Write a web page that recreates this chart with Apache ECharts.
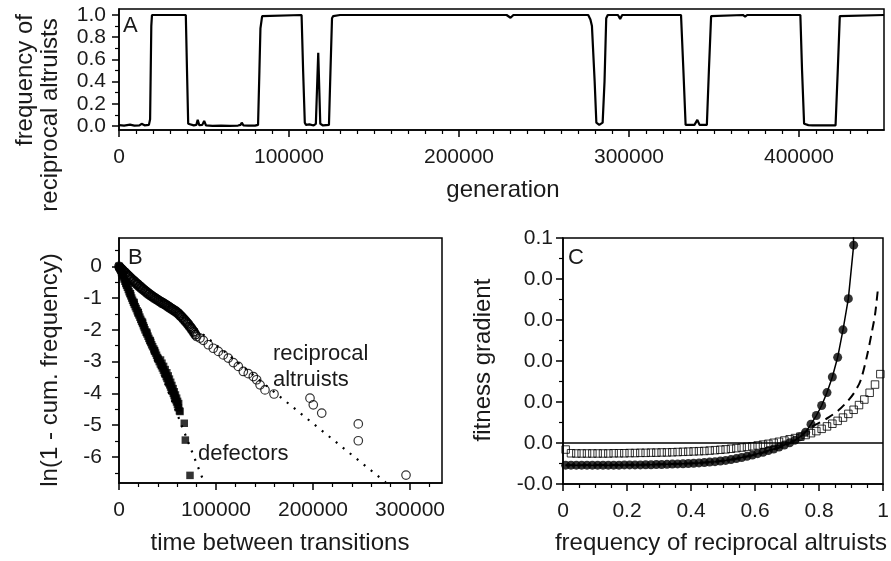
<!DOCTYPE html>
<html>
<head>
<meta charset="utf-8">
<script src="https://cdn.jsdelivr.net/npm/echarts@6/dist/echarts.min.js"></script>
<style>
html, body { margin: 0; padding: 0; background: #fff; }
#main { width: 891px; height: 561px; }
</style>
</head>
<body>
<div id="main"></div>
<script>
// ---- panel A: frequency of reciprocal altruists over generations
var genA = [0, 3000, 6500, 9000, 12000, 13300, 15000, 17600, 18300, 19000, 19400,
    39300, 40000, 40700, 41200, 44000, 45500, 46300, 47200, 49000, 50100, 51200,
    55000, 60000, 65000, 70000, 71500, 72200, 73200, 76000, 80000, 81800, 82600,
    83200, 84200, 85000, 107400, 108300, 109300, 110000, 112000, 114500, 115800,
    117200, 118400, 120000, 123500, 124400, 125300, 126000, 130000, 228000, 230300,
    232000, 276000, 277300, 278200, 279800, 280800, 282500, 284500, 285600, 286600,
    287500, 293500, 294800, 296000, 330600, 332000, 333300, 338500, 340200, 341500,
    345800, 347000, 348300, 349000, 367000, 368300, 369500, 378000, 379100, 380300,
    400800, 401800, 403000, 405500, 406500, 408000, 421500, 422800, 424000, 425000, 450000];
var freqA = [0.008, 0.004, 0.012, 0.004, 0.006, 0.02, 0.006, 0.01, 0.06, 0.9, 1.0,
    1.0, 0.5, 0.02, 0.005, 0.006, 0.01, 0.055, 0.008, 0.01, 0.045, 0.005,
    0.002, 0.003, 0.002, 0.004, 0.01, 0.03, 0.006, 0.003, 0.003, 0.01, 0.5,
    0.88, 0.99, 1.0, 1.0, 0.5, 0.03, 0.01, 0.015, 0.005, 0.02,
    0.66, 0.02, 0.005, 0.01, 0.5, 0.97, 0.99, 1.0, 1.0, 0.975,
    1.0, 1.0, 0.96, 0.9, 0.4, 0.03, 0.01, 0.03, 0.4, 0.97,
    1.0, 1.0, 0.965, 1.0, 1.0, 0.5, 0.01, 0.01, 0.055, 0.01,
    0.01, 0.5, 0.99, 1.0, 1.0, 0.985, 1.0, 1.0, 0.985, 1.0,
    1.0, 0.5, 0.02, 0.008, 0.018, 0.005, 0.005, 0.5, 0.99, 1.0, 1.0];
var ticksAx = [0, 100000, 200000, 300000, 400000];
var ticksAy = [0, 0.2, 0.4, 0.6, 0.8, 1.0];

// ---- panel B: time between transitions
var defT = [0, 300, 900, 1800, 2600, 3500, 4400, 5200, 6100, 7000, 7800, 8700, 9600,
    10400, 11300, 12200, 13100, 14000, 14900, 15800, 16800, 17700, 18700, 19600,
    20500, 21500, 22400, 23300, 24300, 25200, 26000, 26800, 27900, 28900, 29900,
    30800, 31800, 32800, 33700, 34700, 35800, 36800, 37700, 38700, 39600, 40600,
    41500, 42600, 43700, 44700, 45800, 46800, 47900, 48700, 49500, 50600, 51400,
    52300, 53200, 54100, 55000, 56000, 56800, 57600, 58400, 59300, 60200, 61200,
    62300, 67300, 68400, 73200,
    1500, 4000, 7600, 11800, 15600, 19900, 24200, 28600, 32300, 36500, 40000,
    42800, 44300, 46000, 47600, 49300, 50800, 52000, 53300, 54500, 55800, 57000,
    58200, 59400, 60400, 61500, 62900];
var defLn = [0, -0.03, -0.07, -0.13, -0.2, -0.27, -0.33, -0.4, -0.47, -0.53, -0.6, -0.66, -0.73,
    -0.8, -0.86, -0.93, -1.0, -1.07, -1.13, -1.2, -1.27, -1.33, -1.4, -1.47,
    -1.53, -1.6, -1.67, -1.73, -1.8, -1.87, -1.93, -2.0, -2.07, -2.13, -2.2,
    -2.27, -2.33, -2.4, -2.47, -2.53, -2.6, -2.67, -2.73, -2.8, -2.87, -2.93,
    -3.0, -3.07, -3.13, -3.2, -3.27, -3.33, -3.4, -3.47, -3.53, -3.6, -3.67,
    -3.73, -3.8, -3.87, -3.93, -4.0, -4.07, -4.13, -4.2, -4.27, -4.35, -4.45,
    -4.55, -4.94, -5.47, -6.58,
    -0.09, -0.27, -0.55, -0.86, -1.14, -1.45, -1.76, -2.08, -2.35, -2.65, -2.9,
    -2.95, -3.05, -3.15, -3.25, -3.35, -3.45, -3.55, -3.65, -3.75, -3.85, -3.95,
    -4.05, -4.15, -4.25, -4.32, -4.57];
var altT = [0, 1000, 2000, 3000, 4000, 5000, 6000, 7000, 8000, 9000, 10000, 11000, 12000,
    13000, 14000, 15000, 16000, 17000, 18000, 19000, 20000, 21000, 22000, 23000,
    24000, 25000, 26000, 27000, 28000, 29000, 30000, 31000, 32000, 33000, 34000,
    35000, 36000, 37000, 38000, 39000, 40000, 41000, 42000, 43000, 44000, 45000,
    46000, 47000, 48000, 49000, 50000, 51000, 52000, 53000, 54000, 55000, 56000,
    57000, 58000, 59000, 60000, 61000, 62000, 63000, 64000, 65000, 66000, 67000,
    68000, 69000, 70000, 71000, 72000, 73000, 74000, 75000, 76000, 77000, 78000,
    79000, 80100, 83500, 86900, 92100, 97200, 102400, 107500, 112700, 117900,
    123000, 128200, 133300, 138500, 141900, 145400, 150500, 159800, 196900, 200300,
    209000, 246700, 246700, 295900,
    500, 2500, 4500, 6500, 8500, 10500, 12500, 14500, 16500, 18500, 20500, 22500,
    24500, 26500, 28500, 30500, 32500, 34500, 36500, 38500, 40500, 42500, 44500,
    46500, 48500, 50500, 52500, 54500, 56500, 58500, 60500, 62500, 64500, 66500,
    68500, 70500, 72500, 74500, 76500, 78500];
var altLn = [0, -0.03, -0.07, -0.09, -0.12, -0.16, -0.18, -0.21, -0.25, -0.27, -0.3, -0.33, -0.37,
    -0.39, -0.42, -0.45, -0.47, -0.5, -0.54, -0.55, -0.58, -0.62, -0.63, -0.66,
    -0.7, -0.71, -0.74, -0.77, -0.79, -0.81, -0.85, -0.86, -0.88, -0.92, -0.93,
    -0.95, -0.98, -0.99, -1.01, -1.04, -1.05, -1.07, -1.1, -1.11, -1.13, -1.15,
    -1.16, -1.18, -1.21, -1.22, -1.24, -1.27, -1.28, -1.3, -1.33, -1.34, -1.36,
    -1.39, -1.4, -1.42, -1.45, -1.47, -1.5, -1.54, -1.56, -1.59, -1.63, -1.66,
    -1.7, -1.73, -1.77, -1.8, -1.84, -1.89, -1.92, -1.96, -2.01, -2.05, -2.1,
    -2.15, -2.21, -2.26, -2.33, -2.47, -2.58, -2.68, -2.79, -2.89, -3.03,
    -3.15, -3.31, -3.38, -3.47, -3.57, -3.73, -3.89, -4.02, -4.15, -4.36,
    -4.62, -4.96, -5.49, -6.57,
    -0.05, -0.11, -0.17, -0.23, -0.29, -0.35, -0.42, -0.47, -0.53, -0.58, -0.64, -0.69,
    -0.74, -0.79, -0.84, -0.89, -0.93, -0.97, -1.02, -1.05, -1.09, -1.13, -1.17,
    -1.2, -1.24, -1.28, -1.32, -1.36, -1.4, -1.44, -1.49, -1.55, -1.61, -1.68,
    -1.75, -1.82, -1.9, -1.98, -2.07, -2.16];
var defFitT = [0, 87700];
var defFitLn = [0, -6.8];
var altFitT = [0, 275000];
var altFitLn = [0, -6.8];
var ticksBx = [0, 100000, 200000, 300000];
var ticksBy = [0, -1, -2, -3, -4, -5, -6];

// ---- panel C: fitness gradient
var fracC = [0.0083, 0.025, 0.0417, 0.0583, 0.075, 0.0917, 0.1083, 0.125, 0.1417, 0.1583,
    0.175, 0.1917, 0.2083, 0.225, 0.2417, 0.2583, 0.275, 0.2917, 0.3083, 0.325,
    0.3417, 0.3583, 0.375, 0.3917, 0.4083, 0.425, 0.4417, 0.4583, 0.475, 0.4917,
    0.5083, 0.525, 0.5417, 0.5583, 0.575, 0.5917, 0.6083, 0.625, 0.6417, 0.6583,
    0.675, 0.6917, 0.7083, 0.725, 0.7417, 0.7583, 0.775, 0.7917, 0.8083, 0.825,
    0.8417, 0.8583, 0.875, 0.8917, 0.9083, 0.925, 0.9417, 0.9583, 0.975, 0.9917];
var circC = [-0.0108, -0.0108, -0.0108, -0.0108, -0.0108, -0.0108, -0.0108, -0.0108, -0.0108, -0.0108,
    -0.0108, -0.0107, -0.0107, -0.0107, -0.0107, -0.0106, -0.0106, -0.0105, -0.0105, -0.0104,
    -0.0103, -0.0102, -0.0101, -0.0100, -0.0099, -0.0097, -0.0095, -0.0093, -0.0091, -0.0088,
    -0.0085, -0.0081, -0.0076, -0.0071, -0.0065, -0.0059, -0.0052, -0.0045, -0.0037, -0.0029,
    -0.0020, -0.0010, 0.0001, 0.0014, 0.0031, 0.0053, 0.0092, 0.0134, 0.0183, 0.0246,
    0.0322, 0.0418, 0.0552, 0.0704, 0.0965];
var sqC = [-0.0032, -0.0050, -0.0051, -0.0051, -0.0051, -0.0051, -0.0051, -0.0051, -0.0051, -0.0050,
    -0.0050, -0.0050, -0.0049, -0.0049, -0.0048, -0.0048, -0.0047, -0.0047, -0.0046, -0.0046,
    -0.0045, -0.0044, -0.0043, -0.0042, -0.0041, -0.0040, -0.0039, -0.0037, -0.0035, -0.0033,
    -0.0031, -0.0028, -0.0025, -0.0022, -0.0019, -0.0016, -0.0012, -0.0008, -0.0004, 0.0001,
    0.0006, 0.0012, 0.0018, 0.0024, 0.0031, 0.0039, 0.0048, 0.0058, 0.0069, 0.0081,
    0.0094, 0.0108, 0.0124, 0.0142, 0.0162, 0.0185, 0.0212, 0.0245, 0.0285, 0.0336];
var solidEndX = [0.907];
var solidEndY = [0.104];
var dashX = [0.008, 0.2, 0.4, 0.5, 0.6, 0.65, 0.7, 0.74, 0.77, 0.8, 0.83, 0.86, 0.89, 0.91, 0.93, 0.95, 0.965, 0.975, 0.985];
var dashY = [-0.0108, -0.0107, -0.0099, -0.0087, -0.0058, -0.0035, -0.0007, 0.0028, 0.0072, 0.0098, 0.0125, 0.0158, 0.0205, 0.0245, 0.0305, 0.0425, 0.054, 0.0625, 0.0765];
var zeroX = [0, 1];
var zeroY = [0, 0];
var ticksCx = [0, 0.2, 0.4, 0.6, 0.8, 1];
var ticksCy = [-0.02, 0, 0.02, 0.04, 0.06, 0.08, 0.1];

var FONT = 'Liberation Sans, Arial, Helvetica, sans-serif';
var INK = '#1a1a1a';

function zip(a, b) {
    return a.map(function (v, i) { return [v, b[i]]; });
}
function steps(from, to, step, skip) {
    var out = [];
    for (var k = 0; from + k * step <= to + step * 1e-6; k++) {
        var v = from + k * step;
        var isMajor = skip.some(function (m) { return Math.abs(m - v) < step * 1e-3; });
        if (!isMajor) out.push(v);
    }
    return out;
}
function plain(v) { return String(v); }

// major axis with labels, ticks pointing outward
function mainAxis(grid, pos, min, max, ticks, fmt, margin) {
    return {
        type: 'value', gridIndex: grid, position: pos, min: min, max: max,
        axisLine: {show: true, onZero: false, lineStyle: {color: '#000', width: 1.5}},
        axisTick: {show: true, customValues: ticks, length: 7, lineStyle: {color: '#000', width: 1.5}},
        axisLabel: {show: true, customValues: ticks, formatter: fmt, margin: margin,
            color: INK, fontSize: 21, fontFamily: FONT},
        splitLine: {show: false}
    };
}
// second axis on the same side that only carries the short minor ticks
function minorAxis(grid, pos, min, max, vals) {
    return {
        type: 'value', gridIndex: grid, position: pos, offset: 0, min: min, max: max,
        axisLine: {show: false, onZero: false},
        axisLabel: {show: false},
        splitLine: {show: false},
        axisTick: {show: true, customValues: vals, length: 4, lineStyle: {color: '#000', width: 1.2}}
    };
}

var yMinA = -0.036, yMaxA = 1.054;
var yMinB = -6.82, yMaxB = 0.89;

var fmtC = function (v) {
    var t = Math.floor(Math.abs(v) * 10 + 1e-9) / 10;
    return (v < 0 ? '-' : '') + t.toFixed(1);
};

var myChart = echarts.init(document.getElementById('main'), null, {renderer: 'canvas'});

var option = {
    backgroundColor: '#fff',
    animation: false,
    grid: [
        {left: 119, top: 9, width: 765, height: 121, show: true, borderColor: '#000', borderWidth: 1.5, outerBoundsMode: 'none'},
        {left: 119, top: 238, width: 323, height: 245, show: true, borderColor: '#000', borderWidth: 1.5, outerBoundsMode: 'none'},
        {left: 563, top: 238, width: 320, height: 246, show: true, borderColor: '#000', borderWidth: 1.5, outerBoundsMode: 'none'}
    ],
    xAxis: [
        mainAxis(0, 'bottom', 0, 450000, ticksAx, plain, 17),
        minorAxis(0, 'bottom', 0, 450000, steps(0, 440000, 10000, ticksAx)),
        mainAxis(1, 'bottom', 0, 333000, ticksBx, plain, 17),
        minorAxis(1, 'bottom', 0, 333000, steps(0, 320000, 20000, ticksBx)),
        mainAxis(2, 'bottom', 0, 1, ticksCx, plain, 17),
        minorAxis(2, 'bottom', 0, 1, steps(0, 1, 0.05, ticksCx))
    ],
    yAxis: [
        mainAxis(0, 'left', yMinA, yMaxA, ticksAy, function (v) { return v.toFixed(1); }, 13),
        minorAxis(0, 'left', yMinA, yMaxA, steps(0.1, 0.9, 0.2, [])),
        mainAxis(1, 'left', yMinB, yMaxB, ticksBy, plain, 17),
        minorAxis(1, 'left', yMinB, yMaxB, steps(-6.5, 0.5, 1, [])),
        mainAxis(2, 'left', -0.02, 0.1, ticksCy, fmtC, 10),
        minorAxis(2, 'left', -0.02, 0.1, steps(-0.01, 0.09, 0.02, []))
    ],
    series: [
        {
            type: 'line', xAxisIndex: 0, yAxisIndex: 0, data: zip(genA, freqA),
            symbol: 'none', lineStyle: {color: '#000', width: 2.2}
        },
        {
            type: 'line', xAxisIndex: 2, yAxisIndex: 2, data: zip(defFitT, defFitLn),
            symbol: 'none', lineStyle: {color: '#000', width: 2.2, type: [2, 7]}, z: 1
        },
        {
            type: 'line', xAxisIndex: 2, yAxisIndex: 2, data: zip(altFitT, altFitLn),
            symbol: 'none', lineStyle: {color: '#000', width: 2.2, type: [2, 7]}, z: 1
        },
        {
            type: 'scatter', xAxisIndex: 2, yAxisIndex: 2, data: zip(altT, altLn),
            symbol: 'circle', symbolSize: 8.5,
            itemStyle: {color: 'rgba(0,0,0,0)', borderColor: '#000', borderWidth: 1.2}, z: 3
        },
        {
            type: 'scatter', xAxisIndex: 2, yAxisIndex: 2, data: zip(defT, defLn),
            symbol: 'rect', symbolSize: 7.5, itemStyle: {color: '#000'}, z: 4
        },
        {
            type: 'line', xAxisIndex: 4, yAxisIndex: 4, data: zip(zeroX, zeroY),
            symbol: 'none', lineStyle: {color: '#000', width: 1.5}, z: 1
        },
        {
            type: 'line', xAxisIndex: 4, yAxisIndex: 4, data: zip(dashX, dashY),
            symbol: 'none', smooth: 0.3, lineStyle: {color: '#000', width: 2, type: [9, 6]}, z: 1
        },
        {
            type: 'line', xAxisIndex: 4, yAxisIndex: 4,
            data: zip(fracC.slice(0, circC.length).concat(solidEndX), circC.concat(solidEndY)),
            symbol: 'none', lineStyle: {color: '#000', width: 1.5}, z: 2
        },
        {
            type: 'scatter', xAxisIndex: 4, yAxisIndex: 4, data: zip(fracC.slice(0, circC.length), circC),
            symbol: 'circle', symbolSize: 9, itemStyle: {color: '#000'}, z: 3
        },
        {
            type: 'scatter', xAxisIndex: 4, yAxisIndex: 4, data: zip(fracC, sqC),
            symbol: 'rect', symbolSize: 7.5,
            itemStyle: {color: 'rgba(0,0,0,0)', borderColor: '#000', borderWidth: 1}, z: 4
        }
    ],
    graphic: [
        // panel letters
        {type: 'text', x: 123, y: 26, style: {text: 'A', fontSize: 22, fontFamily: FONT, fill: INK, align: 'left', verticalAlign: 'middle'}},
        {type: 'text', x: 128, y: 258, style: {text: 'B', fontSize: 22, fontFamily: FONT, fill: INK, align: 'left', verticalAlign: 'middle'}},
        {type: 'text', x: 568, y: 258, style: {text: 'C', fontSize: 22, fontFamily: FONT, fill: INK, align: 'left', verticalAlign: 'middle'}},
        // panel A axis names
        {type: 'text', x: 503, y: 190, style: {text: 'generation', fontSize: 24, fontFamily: FONT, fill: INK, align: 'center', verticalAlign: 'middle'}},
        {type: 'text', x: 25, y: 80, rotation: Math.PI / 2, style: {text: 'frequency of', fontSize: 24, fontFamily: FONT, fill: INK, align: 'center', verticalAlign: 'middle'}},
        {type: 'text', x: 50, y: 115, rotation: Math.PI / 2, style: {text: 'reciprocal altruists', fontSize: 24, fontFamily: FONT, fill: INK, align: 'center', verticalAlign: 'middle'}},
        // panel B
        {type: 'text', x: 280, y: 543, style: {text: 'time between transitions', fontSize: 24, fontFamily: FONT, fill: INK, align: 'center', verticalAlign: 'middle'}},
        {type: 'text', x: 50, y: 370, rotation: Math.PI / 2, style: {text: 'ln(1 - cum. frequency)', fontSize: 24, fontFamily: FONT, fill: INK, align: 'center', verticalAlign: 'middle'}},
        {type: 'text', x: 273, y: 354, style: {text: 'reciprocal', fontSize: 22, fontFamily: FONT, fill: INK, align: 'left', verticalAlign: 'middle'}},
        {type: 'text', x: 273, y: 380, style: {text: 'altruists', fontSize: 22, fontFamily: FONT, fill: INK, align: 'left', verticalAlign: 'middle'}},
        {type: 'text', x: 198, y: 454, style: {text: 'defectors', fontSize: 22, fontFamily: FONT, fill: INK, align: 'left', verticalAlign: 'middle'}},
        // panel C
        {type: 'text', x: 721, y: 543, style: {text: 'frequency of reciprocal altruists', fontSize: 24, fontFamily: FONT, fill: INK, align: 'center', verticalAlign: 'middle'}},
        {type: 'text', x: 483, y: 360, rotation: Math.PI / 2, style: {text: 'fitness gradient', fontSize: 24, fontFamily: FONT, fill: INK, align: 'center', verticalAlign: 'middle'}}
    ]
};

myChart.setOption(option);
window.onresize = myChart.resize;
</script>
</body>
</html>
